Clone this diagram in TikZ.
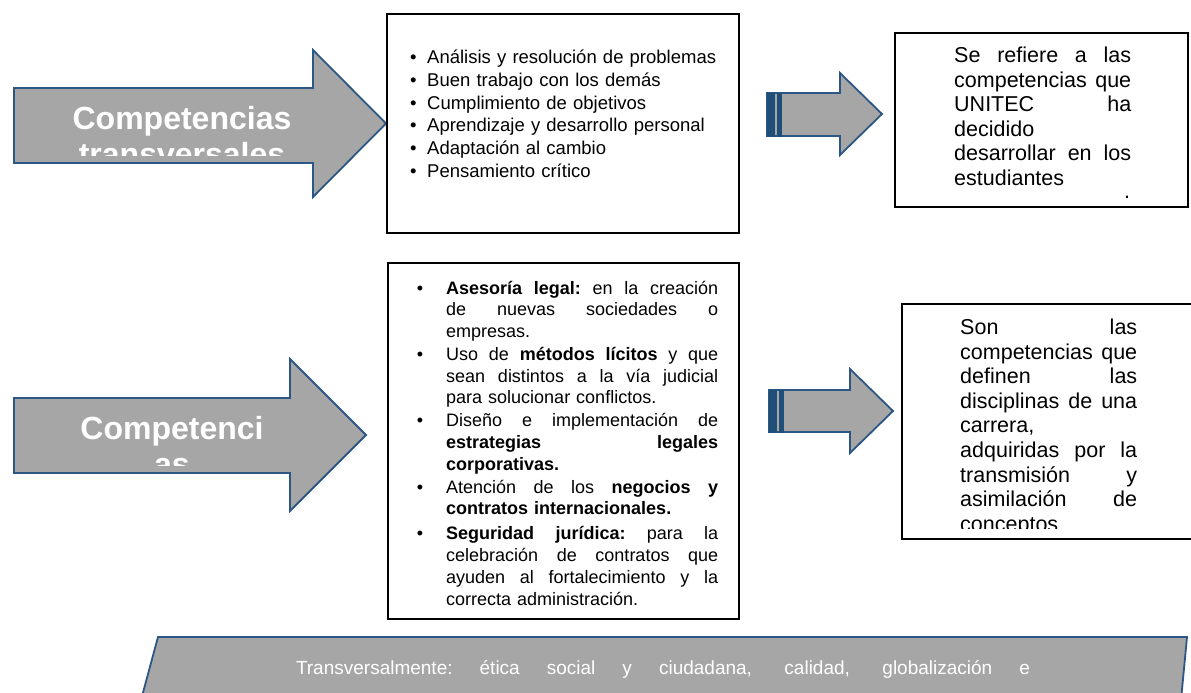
\documentclass[tikz,border=0pt]{standalone}
\usepackage{fontspec}
\setmainfont{Liberation Sans}
\definecolor{agray}{HTML}{A6A6A6}
\definecolor{ablue}{HTML}{2C5684}
\definecolor{adark}{HTML}{1F4E79}
\newcommand\bul[1]{\leavevmode\llap{\textbullet\hspace{#1}}}
\newcommand\jl[2]{\leavevmode\hbox to #1{\spaceskip=0.278em plus 1fil\relax\xspaceskip=\spaceskip #2}}
\tikzset{
  arrowshape/.style={fill=agray, draw=ablue, line width=1.8pt, line join=miter},
  box/.style={draw=black, line width=2pt},
  bigtext/.style={font=\fontsize{32}{36.6}\selectfont\bfseries, text=white, align=center, inner sep=0pt, text width=300pt, anchor=base},
  listtop/.style={font=\fontsize{18.5}{22.8}\selectfont, align=left, inner sep=0pt, text width=310pt, anchor=base west},
  listbot/.style={font=\fontsize{18}{21.7}\selectfont, align=left, inner sep=0pt, text width=280pt, anchor=base west},
  desc/.style={font=\fontsize{21.5}{24.6}\selectfont, align=left, inner sep=0pt, text width=185pt, anchor=base west},
  bandtext/.style={font=\fontsize{19}{22}\selectfont, text=white, inner sep=0pt, anchor=base},
}
\begin{document}
\begin{tikzpicture}[x=1pt,y=-1pt]
\useasboundingbox (0,0) rectangle (1191,693);
\clip (0,0) rectangle (1191,693);

% ---- row 1 ----
\draw[arrowshape] (14,88) -- (313,88) -- (313,50) -- (386,123.5) -- (313,197) -- (313,163) -- (14,163) -- cycle;
\begin{scope}
  \clip (14,80) rectangle (313,155);
  \node[bigtext] (t1) at (182,129) {Competencias\\transversales};
\end{scope}

\draw[box] (387,14) rectangle (739,233);
\node[listtop] (l1) at (427,63.5) {%
\bul{10.5pt}Análisis y resolución de problemas\\
\bul{10.5pt}Buen trabajo con los demás\\
\bul{10.5pt}Cumplimiento de objetivos\\
\bul{10.5pt}Aprendizaje y desarrollo personal\\
\bul{10.5pt}Adaptación al cambio\\
\bul{10.5pt}Pensamiento crítico};

\draw[arrowshape] (767,93) -- (840,93) -- (840,73) -- (882,114) -- (840,155) -- (840,136) -- (767,136) -- cycle;
\fill[adark] (766.5,92.5) rectangle (774.5,136.5);
\fill[adark] (777,92.5) rectangle (781.5,136.5);

\draw[box] (895,33) rectangle (1188,207);
\node[desc] (d1) at (954,62.5) {%
\jl{177pt}{Se refiere a las}\\
\jl{177pt}{competencias que}\\
\jl{177pt}{UNITEC ha}\\
decidido\\
\jl{177pt}{desarrollar en los}\\
estudiantes\\[-12pt]
\jl{177pt}{\hfill.\hspace{1pt}}};

% ---- row 2 ----
\draw[arrowshape] (14,398) -- (290,398) -- (290,359) -- (366,435) -- (290,511) -- (290,473) -- (14,473) -- cycle;
\begin{scope}
  \clip (14,390) rectangle (290,465);
  \node[bigtext, text width=200pt] (t2) at (172,439) {Competenci\\as};
\end{scope}

\draw[box] (388,263) rectangle (739,619);
\node[listbot] (l2) at (446,294) {%
\bul{23pt}\jl{272pt}{\textbf{Asesoría legal:} en la creación}\\
\jl{272pt}{de nuevas sociedades o}\\
empresas.\\[1.3pt]
\bul{23pt}\jl{272pt}{Uso de \textbf{métodos lícitos} y que}\\
\jl{272pt}{sean distintos a la vía judicial}\\
para solucionar conflictos.\\[1.3pt]
\bul{23pt}\jl{272pt}{Diseño e implementación de}\\
\jl{272pt}{\textbf{estrategias legales}}\\
\textbf{corporativas.}\\[1.3pt]
\bul{23pt}\jl{272pt}{Atención de los \textbf{negocios y}}\\
\textbf{contratos internacionales.}\\[3.3pt]
\bul{23pt}\jl{272pt}{\textbf{Seguridad jurídica:} para la}\\
\jl{272pt}{celebración de contratos que}\\
\jl{272pt}{ayuden al fortalecimiento y la}\\
correcta administración.};

\draw[arrowshape] (769,390) -- (850,390) -- (850,369) -- (893,411) -- (850,453) -- (850,432) -- (769,432) -- cycle;
\fill[adark] (768.5,389.5) rectangle (776.5,432.5);
\fill[adark] (779,389.5) rectangle (783.5,432.5);

\draw[box] (902,304) rectangle (1205,539);
\begin{scope}
  \clip (905,306) rectangle (1191,528);
  \node[desc] (d2) at (960,334.5) {%
  \jl{177pt}{Son las}\\
  \jl{177pt}{competencias que}\\
  \jl{177pt}{definen las}\\
  \jl{177pt}{disciplinas de una}\\
  carrera,\\
  \jl{177pt}{adquiridas por la}\\
  \jl{177pt}{transmisión y}\\
  \jl{177pt}{asimilación de}\\
  conceptos};
\end{scope}

% ---- bottom band ----
\draw[arrowshape] (141,700) -- (158,637) -- (1187,637) -- (1181,700) -- cycle;
\node[bandtext] (b1) at (663,674) {\jl{734pt}{Transversalmente: ética social y ciudadana, calidad, globalización e}};
\end{tikzpicture}
\end{document}
